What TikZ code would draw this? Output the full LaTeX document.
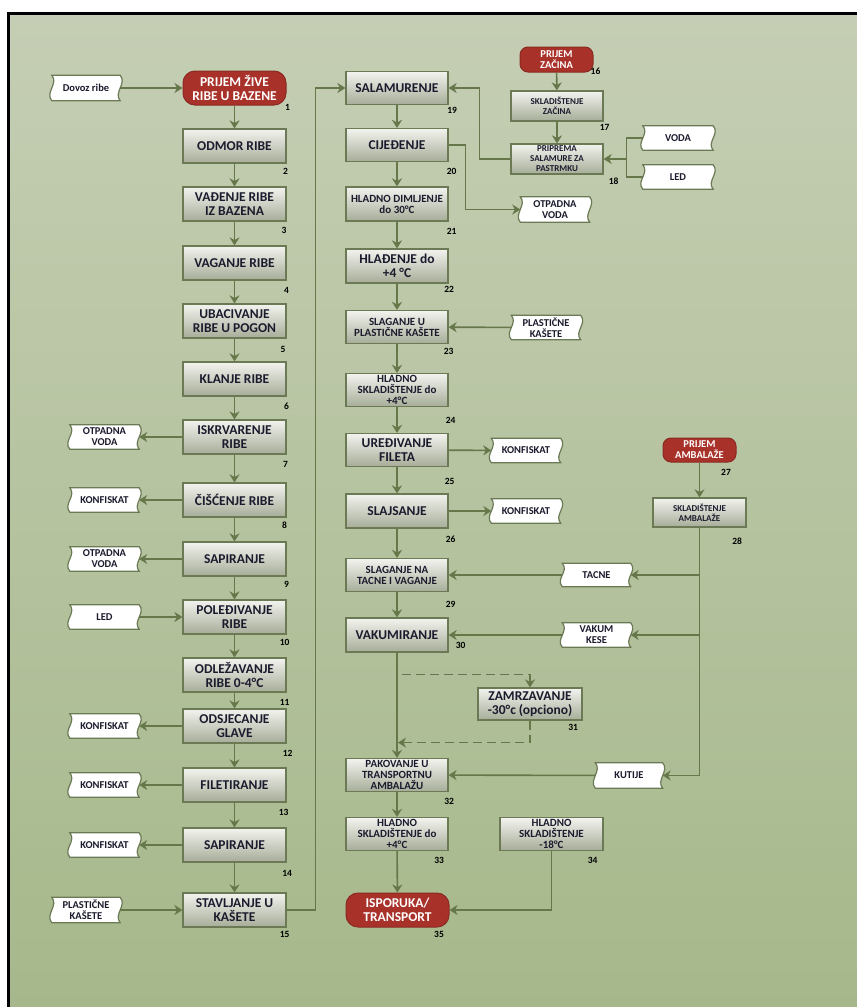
\documentclass[tikz,border=0pt]{standalone}
\usepackage{fontspec}
\setmainfont{Carlito}
\usepackage{tikz}
\usetikzlibrary{arrows.meta, calc, backgrounds}

\definecolor{sage}{HTML}{C5CEB4}
\definecolor{sagedark}{HTML}{A6B88B}
\definecolor{linecol}{HTML}{66774A}
\definecolor{boxline}{HTML}{6B7A55}
\definecolor{boxtop}{HTML}{F3F3EF}
\definecolor{boxbot}{HTML}{A6AD98}
\definecolor{termred}{HTML}{A8322A}
\definecolor{termline}{HTML}{8A2A21}
\definecolor{inkcol}{HTML}{1B1B2E}

\tikzset{
  stepbox/.style={draw=boxline, line width=1.2pt, top color=boxtop, bottom color=boxbot,
    minimum width=103pt, minimum height=34pt, inner sep=0.5pt, align=center,
    text=inkcol, font=\bfseries\fontsize{13.5}{14}\selectfont},
  midbox/.style={stepbox, font=\bfseries\fontsize{11}{11}\selectfont},
  smallbox/.style={stepbox, minimum width=92pt, minimum height=30pt,
    font=\bfseries\fontsize{9}{10}\selectfont},
  terminal/.style={draw=termline, line width=1pt, fill=termred, rounded corners=12pt,
    minimum width=103pt, minimum height=34pt, inner sep=0.5pt, align=center,
    text=white, font=\bfseries\fontsize{13.5}{14}\selectfont},
  smallterm/.style={terminal, rounded corners=8pt, minimum width=73pt, minimum height=25pt,
    font=\bfseries\fontsize{10.5}{11}\selectfont},
  supply/.style={minimum width=69pt, minimum height=24pt, inner sep=0pt, align=center,
    text=inkcol, font=\bfseries\fontsize{10.5}{11}\selectfont},
  flow/.style={draw=linecol, line width=1.6pt, -{Stealth[width=10pt,length=8pt,inset=2.5pt]}},
  joint/.style={draw=linecol, line width=1.6pt},
  num/.style={font=\bfseries\fontsize{9.5}{10}\selectfont, text=black, inner sep=0pt},
}

% outline of a supply tape, drawn behind its node
\newcommand{\tapeout}[1]{%
  \draw[draw=boxline, line width=1.2pt, fill=white]
    (#1.north west) -- (#1.north east)
    .. controls ($(#1.north east)+(7,8)$) and ($(#1.south east)+(-7,-8)$) .. (#1.south east)
    -- (#1.south west)
    .. controls ($(#1.south west)+(-7,-8)$) and ($(#1.north west)+(7,8)$) .. (#1.north west)
    -- cycle;}

\begin{document}
\begin{tikzpicture}[x=1pt, y=-1pt]
  \useasboundingbox (0,0) rectangle (857,1007);
  \begin{scope}[on background layer]
    \fill[white] (0,0) rectangle (857,1007);
    \shade[top color=sage, bottom color=sagedark] (8,13) rectangle (857,1007);
  \end{scope}
  \draw[black, line width=3pt] (8.5,1007) |- (857,13.5);

  % left column
  \node[terminal] (n1) at (234.5,88) {PRIJEM ŽIVE\\RIBE U BAZENE};
  \node[stepbox] (n2) at (234.5,146) {ODMOR RIBE};
  \node[stepbox] (n3) at (234.5,204) {VAĐENJE RIBE\\IZ BAZENA};
  \node[stepbox] (n4) at (234.5,263) {VAGANJE RIBE};
  \node[stepbox] (n5) at (234.5,321) {UBACIVANJE\\RIBE U POGON};
  \node[stepbox] (n6) at (234.5,379) {KLANJE RIBE};
  \node[stepbox] (n7) at (234.5,437) {ISKRVARENJE\\RIBE};
  \node[stepbox] (n8) at (234.5,500) {ČIŠĆENJE RIBE};
  \node[stepbox] (n9) at (234.5,559) {SAPIRANJE};
  \node[stepbox] (n10) at (234.5,617) {POLEĐIVANJE\\RIBE};
  \node[stepbox] (n11) at (234.5,675) {ODLEŽAVANJE\\RIBE 0-4°C};
  \node[stepbox] (n12) at (234.5,726) {ODSJECANJE\\GLAVE};
  \node[stepbox] (n13) at (234.5,785) {FILETIRANJE};
  \node[stepbox] (n14) at (234.5,845) {SAPIRANJE};
  \node[stepbox] (n15) at (234.5,910) {STAVLJANJE U\\KAŠETE};

  \node[supply, minimum width=68pt, minimum height=25pt] (t1) at (86,88) {Dovoz ribe};
  \node[supply] (t7) at (104.5,437) {OTPADNA\\VODA};
  \node[supply] (t8) at (104.5,500) {KONFISKAT};
  \node[supply] (t9) at (104.5,559) {OTPADNA\\VODA};
  \node[supply] (t10) at (104.5,617) {LED};
  \node[supply] (t12) at (104.5,726) {KONFISKAT};
  \node[supply] (t13) at (104.5,785) {KONFISKAT};
  \node[supply] (t14) at (104.5,845) {KONFISKAT};
  \node[supply, minimum width=68pt, minimum height=25pt] (t15) at (86,910) {PLASTIČNE\\KAŠETE};

  % right column
  \node[smallterm] (n16) at (556.5,59.5) {PRIJEM\\ZAČINA};
  \node[smallbox] (n17) at (557,106) {SKLADIŠTENJE\\ZAČINA};
  \node[smallbox] (n18) at (557,159) {PRIPREMA\\SALAMURE ZA\\PASTRMKU};
  \node[stepbox, minimum width=102pt, minimum height=33pt] (n19) at (397,88) {SALAMURENJE};
  \node[stepbox, minimum width=102pt, minimum height=33pt] (n20) at (397,145) {CIJEĐENJE};
  \node[midbox, minimum width=102pt] (n21) at (397,204) {HLADNO DIMLJENJE\\do 30°C};
  \node[stepbox, minimum width=102pt] (n22) at (397,266) {HLAĐENJE do\\+4 °C};
  \node[midbox, minimum width=102pt, minimum height=33pt] (n23) at (397,327) {SLAGANJE U\\PLASTIČNE KAŠETE};
  \node[midbox, minimum width=102pt, minimum height=33pt] (n24) at (397,390) {HLADNO\\SKLADIŠTENJE do\\+4°C};
  \node[stepbox, minimum width=102pt, minimum height=33pt] (n25) at (397,450) {UREĐIVANJE\\FILETA};
  \node[stepbox, minimum width=102pt] (n26) at (397,511) {SLAJSANJE};
  \node[midbox, minimum width=102pt, minimum height=33pt] (n29) at (397,575) {SLAGANJE NA\\TACNE I VAGANJE};
  \node[stepbox, minimum width=102pt] (n30) at (397,635) {VAKUMIRANJE};
  \node[stepbox, minimum width=104pt, minimum height=32pt] (n31) at (530,704) {ZAMRZAVANJE\\-30°c (opciono)};
  \node[midbox, minimum width=102pt, minimum height=33pt] (n32) at (397,775) {PAKOVANJE U\\TRANSPORTNU\\AMBALAŽU};
  \node[midbox, minimum width=102pt, minimum height=33pt] (n33) at (397,834) {HLADNO\\SKLADIŠTENJE do\\+4°C};
  \node[midbox, minimum height=33pt] (n34) at (551.5,834) {HLADNO\\SKLADIŠTENJE\\-18°C};
  \node[terminal] (n35) at (397.5,910) {ISPORUKA/\\TRANSPORT};
  \node[smallterm, minimum height=24pt] (n27) at (699.5,450) {PRIJEM\\AMBALAŽE};
  \node[smallbox, minimum width=93pt, minimum height=29pt] (n28) at (699.5,512.5) {SKLADIŠTENJE\\AMBALAŽE};

  \node[supply, minimum height=25pt] (t20) at (555,209.5) {OTPADNA\\VODA};
  \node[supply, minimum width=70pt] (tv) at (678,138) {VODA};
  \node[supply, minimum width=70pt] (tl) at (678,177) {LED};
  \node[supply] (t23) at (546,327.5) {PLASTIČNE\\KAŠETE};
  \node[supply] (t25) at (526,450.5) {KONFISKAT};
  \node[supply] (t26) at (526,511) {KONFISKAT};
  \node[supply, minimum width=68pt, minimum height=23pt] (tt) at (596.5,575) {TACNE};
  \node[supply, minimum width=68pt] (tk) at (596.5,635) {VAKUM\\KESE};
  \node[supply, minimum width=67pt, minimum height=25pt] (tu) at (629,775.5) {KUTIJE};

  % step numbers
  \foreach \n/\dx/\dy in {1/1/2, 2/-1/8, 3/-2.5/9, 4/0/10, 5/-3.5/11, 6/0/10, 7/-1/10,
      8/-2/8, 9/0/8, 10/-2/8, 11/-2/10, 12/1/10, 13/-3/10, 14/0.5/11, 15/-2/7,
      16/2/-1, 17/1/6, 18/10/7, 19/3.5/5, 20/3/9, 21/3/10, 22/0.5/6, 23/0/7, 24/2/13,
      25/1/14, 26/2/11, 27/-10.5/10, 28/-9.5/14, 29/2/12, 30/12/-7, 31/-9.5/7,
      32/0.5/9, 33/-9.5/9, 34/-11/9, 35/-10.5/7}
    \node[num] (l\n) at ($(n\n.south east)+(\dx,\dy)$) {\n};

  \begin{scope}[on background layer]
    \foreach \t in {t1,t7,t8,t9,t10,t12,t13,t14,t15,t20,tv,tl,t23,t25,t26,tt,tk,tu}
      \tapeout{\t};
  \end{scope}

  % connectors
  \foreach \a/\b in {n1/n2,n2/n3,n3/n4,n4/n5,n5/n6,n6/n7,n7/n8,n8/n9,n9/n10,n10/n11,
      n11/n12,n12/n13,n13/n14,n14/n15,n16/n17,n17/n18,n19/n20,n20/n21,n21/n22,n22/n23,
      n23/n24,n24/n25,n25/n26,n26/n29,n29/n30,n30/n32,n32/n33,n33/n35,n27/n28}
    \draw[flow] (\a) -- (\b);
  \foreach \a/\b in {t1/n1,n7/t7,n8/t8,n9/t9,t10/n10,n12/t12,n13/t13,n14/t14,t15/n15,
      t23/n23,n25/t25,n26/t26,tt/n29,tk/n30,tu/n32}
    \draw[flow] (\a) -- (\b);

  \draw[flow] (n15.east) -- ++(29,0) |- (n19.west);
  \draw[flow] (n18.west) -- ++(-31,0) |- (n19.east);
  \draw[flow] (n20.east) -- ++(17,0) |- (t20.west);
  \coordinate (j18) at ($(n18.east)+(23,0)$);
  \draw[joint] (tv.west) -| (j18) |- (tl.west);
  \draw[flow] (j18) -- (n18.east);

  \draw[flow] (n28.south) |- (tu.east);
  \draw[flow] (n28.south |- tt.east) -- (tt.east);
  \draw[flow] (n28.south |- tk.east) -- (tk.east);

  \coordinate (frz1) at ($(n30.south)+(5,22)$);
  \coordinate (frz2) at ($(n30.south)+(1,90)$);
  \draw[flow, line width=1.3pt, dash pattern=on 9pt off 5pt] (frz1) -| (n31.north);
  \draw[flow, line width=1.3pt, dash pattern=on 9pt off 5pt] (n31.south) |- (frz2);

  \draw[flow] (n34.south) |- (n35.east);
\end{tikzpicture}
\end{document}
